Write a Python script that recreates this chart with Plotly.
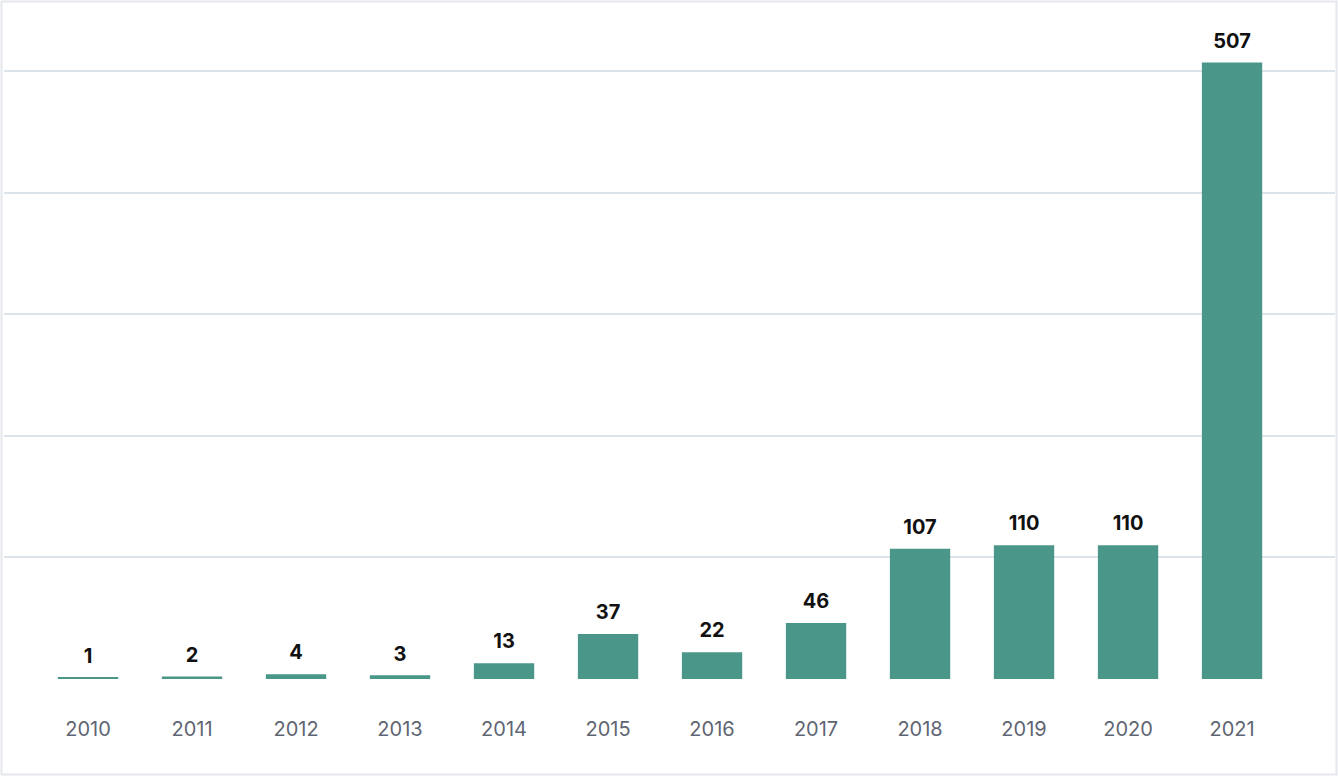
import plotly.graph_objects as go

years = ["2010", "2011", "2012", "2013", "2014", "2015", "2016", "2017", "2018", "2019", "2020", "2021"]
counts = [1, 2, 4, 3, 13, 37, 22, 46, 107, 110, 110, 507]

BAR = "#4a9689"
GRID = "#dde3ea"
FONT = "Inter, Roboto, sans-serif"

fig = go.Figure()
fig.add_trace(go.Bar(
    x=years, y=counts, marker=dict(color=BAR, line=dict(width=0)),
    width=0.58, hoverinfo="x+y",
))
fig.add_trace(go.Scatter(
    x=years, y=counts, mode="markers+text",
    marker=dict(size=14, color="rgba(0,0,0,0)"),
    text=["<b>%d</b>" % c for c in counts], textposition="top center",
    textfont=dict(family=FONT, size=20, color="#111111"),
    cliponaxis=False, hoverinfo="skip",
))

fig.update_layout(
    width=1338, height=776,
    margin=dict(l=4, r=3, t=4, b=97),
    paper_bgcolor="white", plot_bgcolor="white",
    showlegend=False,
    shapes=[dict(type="rect", xref="paper", yref="paper",
                 x0=-0.0019, x1=1.0011, y0=-0.1415, y1=1.0037,
                 line=dict(color="#e4e8ed", width=2), layer="below")],
    xaxis=dict(
        type="category", range=[-0.808, 11.99],
        showgrid=False, zeroline=False, showline=False,
        ticks="outside", ticklen=32, tickcolor="rgba(0,0,0,0)",
        tickfont=dict(family=FONT, size=20, color="#5f6673"),
    ),
    yaxis=dict(
        range=[0, 555], tickvals=[0, 100, 200, 300, 400, 500],
        showticklabels=False, showgrid=True, gridcolor=GRID, gridwidth=2,
        zeroline=False, showline=False, ticks="",
    ),
)

fig.write_html("out.html")
